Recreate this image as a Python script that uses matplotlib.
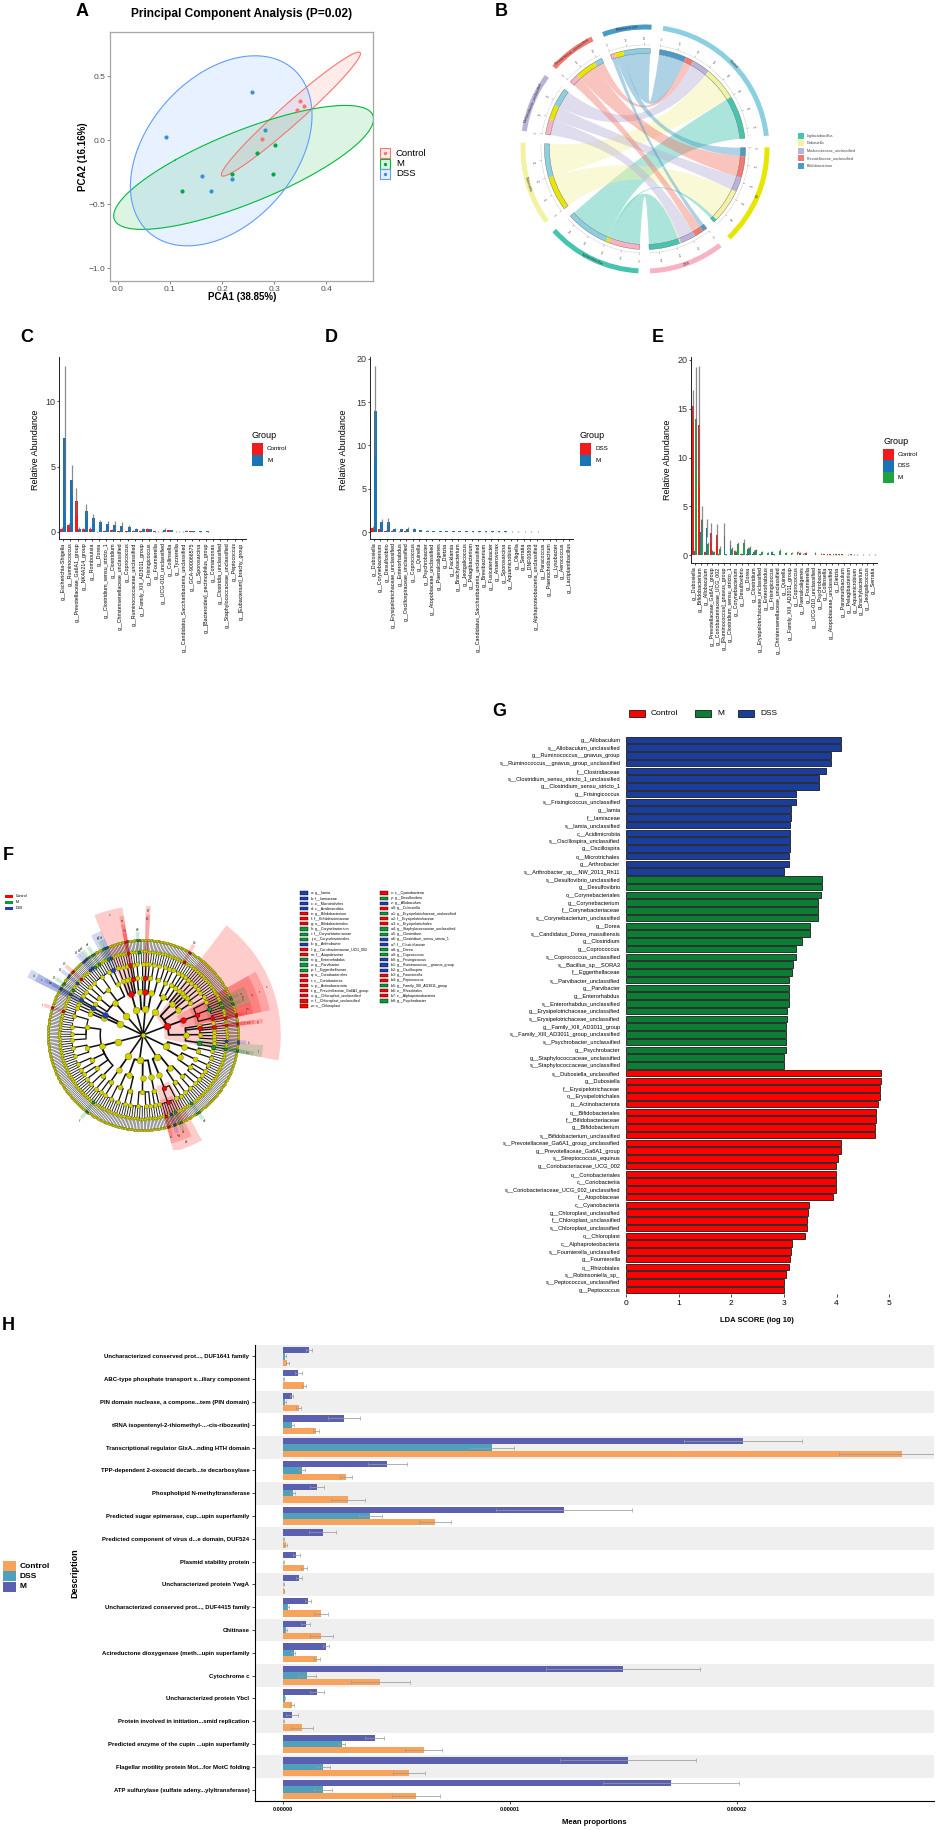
import numpy as np
import matplotlib
matplotlib.use("Agg")
import matplotlib.pyplot as plt
from matplotlib.patches import Rectangle, Wedge, PathPatch
from matplotlib.path import Path
from matplotlib.collections import LineCollection

plt.rcParams['font.family'] = ['Liberation Sans', 'DejaVu Sans']

# ======================= DATA =======================
# --- A: PCA ---
pca_groups = ['Control', 'M', 'DSS']
pca_line_colors = ['#F8766D', '#00BA38', '#619CFF']
pca_point_colors = ['#F8766D', '#00A844', '#3A8FDB']
pca_ctrl_x = [0.350, 0.358, 0.344, 0.277]
pca_ctrl_y = [0.307, 0.263, 0.237, 0.005]
pca_m_x = [0.302, 0.267, 0.219, 0.297, 0.122]
pca_m_y = [-0.037, -0.099, -0.266, -0.268, -0.396]
pca_dss_x = [0.257, 0.092, 0.282, 0.161, 0.220, 0.178]
pca_dss_y = [0.377, 0.023, 0.078, -0.279, -0.305, -0.396]
pca_xticks = [0.0, 0.1, 0.2, 0.3, 0.4]
pca_xticklabels = ['0.0', '0.1', '0.2', '0.3', '0.4']
pca_yticks = [-1.0, -0.5, 0.0, 0.5]
pca_yticklabels = ['\u22121.0', '\u22120.5', '0.0', '0.5']

# --- B: chord ---
chord_groups = ['Control', 'M', 'DSS']
chord_taxa = ['Ligilactobacillus', 'Dubosiella', 'Muribaculaceae_unclassified',
              'Prevotellaceae_unclassified', 'Bifidobacterium']
chord_control = [25.0, 19.5, 10.6, 4.6, 15.6]
chord_m = [2.0, 19.5, 8.5, 12.4, 5.0]
chord_dss = [18.0, 0.5, 9.0, 5.5, 2.6]
chord_group_colors = ['#8CCFE1', '#E6E600', '#F7B3C3']
chord_taxa_colors = ['#45C4AE', '#F2F2A2', '#B9B3D9', '#F27A70', '#4A9BC7']

# --- C ---
c_cats = ["g__Escherichia-Shigella", "g__Ruminococcus", "g__Prevotellaceae_Ga6A1_group",
          "g__NK4A214_group", "g__Romboutsia", "g__Dorea", "g__Clostridium_sensu_stricto_1",
          "g__Clostridium", "g__Christensenellaceae_unclassified", "g__Coprococcus",
          "g__Ruminococcaceae_unclassified", "g__Family_XIII_AD3011_group", "g__Frisingicoccus",
          "g__Fournierella", "g__UCG-010_unclassified", "g__Collinsella", "g__Tyzzerella",
          "g__Candidatus_Saccharibacteria_unclassified", "g__GCA-900066575", "g__Sporosarcina",
          "g__[Bacteroides]_pectinophilus_group", "g__Comamonas", "g__Clostridia_unclassified",
          "g__Staphylococcaceae_unclassified", "g__Peptococcus", "g__[Eubacterium]_brachy_group"]
c_ctrl = [0.25, 0.55, 2.35, 0.20, 0.25, 0.02, 0.10, 0.15, 0.05, 0.05, 0.08, 0.05, 0.25,
          0.05, 0.02, 0.12, 0.03, 0.02, 0.06, 0.02, 0.01, 0.02, 0.01, 0.01, 0.01, 0.01]
c_m = [7.2, 3.95, 0.25, 1.6, 1.05, 0.75, 0.62, 0.55, 0.42, 0.35, 0.25, 0.22, 0.20,
       0.03, 0.18, 0.12, 0.02, 0.08, 0.05, 0.05, 0.06, 0.02, 0.02, 0.02, 0.01, 0.01]
c_ctrl_err = [0.10, 0.15, 1.05, 0.10, 0.10, 0.02, 0.05, 0.05, 0.03, 0.03, 0.04, 0.03, 0.08,
              0.03, 0.02, 0.06, 0.02, 0.02, 0.03, 0.01, 0.01, 0.01, 0.01, 0.01, 0.01, 0.01]
c_m_err = [5.5, 1.15, 0.15, 0.55, 0.30, 0.20, 0.20, 0.30, 0.33, 0.15, 0.08, 0.08, 0.05,
           0.02, 0.12, 0.05, 0.02, 0.04, 0.03, 0.02, 0.03, 0.01, 0.01, 0.01, 0.01, 0.01]

# --- D ---
d_cats = ["g__Dubosiella", "g__Corynebacterium", "g__Desulfovibrio",
          "g__Erysipelotrichaceae_unclassified", "g__Enterorhabdus",
          "g__Oscillospiraceae_unclassified", "g__Coprococcus", "g__Quinella", "g__Psychrobacter",
          "g__Atopobiaceae_unclassified", "g__Paenalcaligenes", "g__Dietzia", "g__Facklamia",
          "g__Brachybacterium", "g__Jeotgalicoccus", "g__Pelagibacterium",
          "g__Candidatus_Saccharibacteria_unclassified", "g__Brevibacterium",
          "g__Fusicatenibacter", "g__Anaerovorax", "g__Sporosarcina", "g__Aquamicrobium",
          "g__Oligella", "g__Serratia", "g__DNF00809", "g__Alphaproteobacteria_unclassified",
          "g__Paracoccus", "g__Paenochrobactrum", "g__Lysobacter", "g__Aerococcus",
          "g__Lactiplantibacillus"]
d_dss = [0.5, 0.3, 0.15, 0.15, 0.05, 0.10, 0.03, 0.02, 0.02, 0.03, 0.02, 0.02, 0.02, 0.02,
         0.01, 0.01, 0.02, 0.01, 0.01, 0.01, 0.01, 0.01, 0.01, 0.01, 0.01, 0.01, 0.01, 0.01,
         0.01, 0.01, 0.01]
d_m = [14.0, 1.2, 1.2, 0.32, 0.30, 0.38, 0.30, 0.20, 0.15, 0.12, 0.12, 0.10, 0.10, 0.10,
       0.10, 0.09, 0.08, 0.08, 0.08, 0.07, 0.07, 0.06, 0.06, 0.05, 0.05, 0.05, 0.04, 0.04,
       0.04, 0.03, 0.03]
d_dss_err = [0.20, 0.10, 0.05, 0.05, 0.02, 0.04, 0.02, 0.01, 0.01, 0.01, 0.01, 0.01, 0.01,
             0.01, 0.01, 0.01, 0.01, 0.01, 0.01, 0.01, 0.01, 0.01, 0.01, 0.01, 0.01, 0.01,
             0.01, 0.01, 0.01, 0.01, 0.01]
d_m_err = [5.2, 0.30, 0.45, 0.10, 0.08, 0.15, 0.12, 0.05, 0.05, 0.04, 0.04, 0.03, 0.03, 0.03,
           0.03, 0.03, 0.03, 0.02, 0.02, 0.02, 0.02, 0.02, 0.02, 0.02, 0.02, 0.02, 0.01, 0.01,
           0.01, 0.01, 0.01]

# --- E ---
e_cats = ["g__Dubosiella", "g__Bifidobacterium", "g__Allobaculum",
          "g__Prevotellaceae_Ga6A1_group", "g__Coriobacteriaceae_UCG_002",
          "g__[Ruminococcus]_gnavus_group", "g__Clostridium_sensu_stricto_1",
          "g__Corynebacterium", "g__Desulfovibrio", "g__Dorea", "g__Clostridium",
          "g__Erysipelotrichaceae_unclassified", "g__Enterorhabdus", "g__Frisingicoccus",
          "g__Christensenellaceae_unclassified", "g__Quinella", "g__Family_XIII_AD3011_group",
          "g__Coprococcus", "g__Paenalcaligenes", "g__Fournierella", "g__UCG-010_unclassified",
          "g__Psychrobacter", "g__Collinsella", "g__Atopobiaceae_unclassified", "g__Dietzia",
          "g__Paramuribaculum", "g__Pelagibacterium", "g__Aquamicrobium", "g__Brachybacterium",
          "g__Jeotgalicoccus", "g__Serratia"]
e_ctrl = [15.3, 13.3, 0.30, 2.30, 2.10, 0.05, 0.05, 0.40, 0.15, 0.10, 0.15, 0.05, 0.05, 0.05,
          0.05, 0.02, 0.05, 0.05, 0.20, 0.25, 0.02, 0.02, 0.12, 0.10, 0.10, 0.08, 0.06, 0.06,
          0.05, 0.04, 0.04]
e_dss = [0.40, 2.40, 2.80, 0.40, 0.10, 2.00, 1.00, 0.30, 0.10, 0.60, 0.35, 0.10, 0.05, 0.30,
         0.05, 0.02, 0.05, 0.02, 0.05, 0.03, 0.02, 0.02, 0.03, 0.02, 0.02, 0.05, 0.02, 0.02,
         0.02, 0.02, 0.02]
e_m = [14.0, 3.60, 1.10, 0.30, 0.60, 0.10, 0.60, 1.10, 1.20, 0.70, 0.50, 0.30, 0.25, 0.10,
       0.40, 0.20, 0.20, 0.35, 0.15, 0.05, 0.20, 0.15, 0.10, 0.10, 0.08, 0.05, 0.08, 0.07,
       0.07, 0.07, 0.06]
e_ctrl_err = [1.6, 6.1, 0.10, 1.00, 1.10, 0.02, 0.02, 0.15, 0.05, 0.05, 0.05, 0.02, 0.02, 0.02,
              0.02, 0.01, 0.02, 0.02, 0.08, 0.08, 0.01, 0.01, 0.04, 0.04, 0.03, 0.03, 0.02,
              0.02, 0.02, 0.02, 0.02]
e_dss_err = [0.15, 1.30, 0.90, 0.15, 0.05, 1.30, 0.60, 0.10, 0.05, 0.20, 0.15, 0.05, 0.02,
             0.10, 0.02, 0.01, 0.02, 0.01, 0.02, 0.01, 0.01, 0.01, 0.01, 0.01, 0.01, 0.02,
             0.01, 0.01, 0.01, 0.01, 0.01]
e_m_err = [5.3, 1.40, 0.30, 0.10, 0.30, 0.05, 0.25, 0.30, 0.50, 0.20, 0.15, 0.10, 0.08, 0.05,
           0.20, 0.08, 0.08, 0.12, 0.06, 0.02, 0.10, 0.06, 0.04, 0.04, 0.03, 0.02, 0.03, 0.03,
           0.03, 0.03, 0.02]

# --- F: cladogram (phylum > class > order > family[genus count]) ---
clado_tree = [
    [[[1, 2], [2, 1, 2, 1], [1], [2]], [[3, 5, 2]], [[3, 2], [2]], [[2], [2], [2]]],
    [[[2, 1], [3], [2, 2]]],
    [[[2, 3], [2, 2]], [[1]], [[2], [3, 1]]],
    [[[1], [2], [2], [2]]],
    [[[3, 1], [7, 2], [3, 2], [3]]],
    [[[1, 1]], [[2], [1]]],
    [[[6, 4, 3, 2], [5, 3], [4, 2], [3, 2], [4, 2]]],
    [[[3, 2]]],
    [[[4, 3], [3, 2]], [[5, 2, 2]], [[2, 2]]],
    [[[6, 2]], [[3, 2], [4, 2]]],
    [[[3, 2, 2], [4]], [[3, 3]]],
]
species_per_genus = 2
clado_marks = {
    (0,): (0, 's'), (0, 1): (0, 'r'), (0, 1, 0): (0, 'q'), (0, 1, 0, 0): (0, 'm'),
    (0, 1, 0, 0, 0): (0, 'l'), (0, 1, 0, 1): (1, 'p'), (0, 1, 0, 1, 1): (1, 'n'),
    (0, 1, 0, 1, 3): (1, 'o'), (0, 0, 0): (1, 'j'), (0, 0, 0, 0): (1, 'i'),
    (0, 0, 0, 0, 0): (1, 'h'), (0, 0, 1, 0, 0): (2, 'k'), (0, 0, 2): (0, 'g'),
    (0, 0, 2, 0): (0, 'f'), (0, 0, 2, 0, 0): (0, 'e'), (1, 0, 1, 0, 1): (0, 'b4'),
    (2, 1): (0, 'b7'), (2, 1, 0): (0, 'b6'), (2, 2, 1, 0, 0): (1, 'b8'),
    (3, 0): (0, 'x'), (3, 0, 0): (0, 'w'), (3, 0, 0, 0): (0, 'v'), (3, 0, 0, 0, 0): (0, 'u'),
    (4, 0, 0, 0): (2, 'a7'), (4, 0, 0, 0, 0): (2, 'a6'), (4, 0, 0, 0, 1): (1, 'a5'),
    (4, 0, 1, 0, 1): (1, 'a8'), (4, 0, 1, 0, 3): (1, 'a9'), (4, 0, 1, 0, 4): (2, 'b0'),
    (4, 0, 1, 0, 5): (2, 'b1'), (4, 0, 2, 0, 1): (0, 'b3'), (4, 0, 2, 1, 0): (2, 'b2'),
    (4, 0, 3, 0, 1): (1, 'b5'), (5, 0): (2, 'd'), (5, 0, 0): (2, 'c'), (5, 0, 0, 0): (2, 'b'),
    (5, 0, 0, 0, 0): (2, 'a'), (6, 0, 0, 0, 2): (0, 't'), (7, 0, 0, 0, 1): (1, 'y'),
    (9, 0, 0): (0, 'a3'), (9, 0, 0, 0): (0, 'a2'), (9, 0, 0, 0, 0): (0, 'a0'),
    (9, 0, 0, 0, 2): (2, 'z'), (9, 0, 0, 0, 4): (1, 'a1'), (9, 1, 0, 1, 0): (1, 'a4'),
}
clado_names = {
    'a': 'g__Iamia', 'b': 'f__Iamiaceae', 'c': 'o__Microtrichales', 'd': 'c__Acidimicrobiia',
    'e': 'g__Bifidobacterium', 'f': 'f__Bifidobacteriaceae', 'g': 'o__Bifidobacteriales',
    'h': 'g__Corynebacterium', 'i': 'f__Corynebacteriaceae', 'j': 'o__Corynebacteriales',
    'k': 'g__Arthrobacter', 'l': 'g__Coriobacteriaceae_UCG_002', 'm': 'f__Atopobiaceae',
    'n': 'g__Enterorhabdus', 'o': 'g__Parvibacter', 'p': 'f__Eggerthellaceae',
    'q': 'o__Coriobacteriales', 'r': 'c__Coriobacteriia', 's': 'p__Actinobacteriota',
    't': 'g__Prevotellaceae_Ga6A1_group', 'u': 'g__Chloroplast_unclassified',
    'v': 'f__Chloroplast_unclassified', 'w': 'o__Chloroplast', 'x': 'c__Cyanobacteria',
    'y': 'g__Desulfovibrio', 'z': 'g__Allobaculum', 'a0': 'g__Dubosiella',
    'a1': 'g__Erysipelotrichaceae_unclassified', 'a2': 'f__Erysipelotrichaceae',
    'a3': 'o__Erysipelotrichales', 'a4': 'g__Staphylococcaceae_unclassified',
    'a5': 'g__Clostridium', 'a6': 'g__Clostridium_sensu_stricto_1', 'a7': 'f__Clostridiaceae',
    'a8': 'g__Dorea', 'a9': 'g__Coprococcus', 'b0': 'g__Frisingicoccus',
    'b1': 'g__Ruminococcus__gnavus_group', 'b2': 'g__Oscillospira', 'b3': 'g__Fournierella',
    'b4': 'g__Peptococcus', 'b5': 'g__Family_XIII_AD3011_group', 'b6': 'o__Rhizobiales',
    'b7': 'c__Alphaproteobacteria', 'b8': 'g__Psychrobacter',
}
clado_groups = ['Control', 'M', 'DSS']
clado_colors = ['#FF0000', '#0A9A3A', '#1E40B8']

# --- G: LDA ---
lda_groups = ['Control', 'M', 'DSS']
lda_colors = ['#FF0000', '#0B7D35', '#1A3E9E']
lda_dss_names = ["g__Allobaculum", "s__Allobaculum_unclassified", "g__Ruminococcus__gnavus_group",
                 "s__Ruminococcus__gnavus_group_unclassified", "f__Clostridiaceae",
                 "s__Clostridium_sensu_stricto_1_unclassified", "g__Clostridium_sensu_stricto_1",
                 "g__Frisingicoccus", "s__Frisingicoccus_unclassified", "g__Iamia", "f__Iamiaceae",
                 "s__Iamia_unclassified", "c__Acidimicrobiia", "s__Oscillospira_unclassified",
                 "g__Oscillospira", "o__Microtrichales", "g__Arthrobacter",
                 "s__Arthrobacter_sp__NW_2013_Rh11"]
lda_dss_scores = [4.08, 4.08, 3.89, 3.89, 3.79, 3.67, 3.67, 3.22, 3.22, 3.13, 3.13, 3.12, 3.11,
                  3.11, 3.11, 3.10, 3.09, 3.01]
lda_m_names = ["s__Desulfovibrio_unclassified", "g__Desulfovibrio", "o__Corynebacteriales",
               "g__Corynebacterium", "f__Corynebacteriaceae", "s__Corynebacterium_unclassified",
               "g__Dorea", "s__Candidatus_Dorea_massiliensis", "g__Clostridium", "g__Coprococcus",
               "s__Coprococcus_unclassified", "s__Bacillus_sp__SORA3", "f__Eggerthellaceae",
               "s__Parvibacter_unclassified", "g__Parvibacter", "g__Enterorhabdus",
               "s__Enterorhabdus_unclassified", "g__Erysipelotrichaceae_unclassified",
               "s__Erysipelotrichaceae_unclassified", "g__Family_XIII_AD3011_group",
               "s__Family_XIII_AD3011_group_unclassified", "s__Psychrobacter_unclassified",
               "g__Psychrobacter", "g__Staphylococcaceae_unclassified",
               "s__Staphylococcaceae_unclassified"]
lda_m_scores = [3.72, 3.72, 3.70, 3.65, 3.65, 3.65, 3.49, 3.49, 3.34, 3.22, 3.22, 3.18, 3.15,
                3.10, 3.10, 3.09, 3.09, 3.06, 3.06, 3.04, 3.04, 3.03, 3.03, 3.01, 3.01]
lda_ctrl_names = ["s__Dubosiella_unclassified", "g__Dubosiella", "f__Erysipelotrichaceae",
                  "o__Erysipelotrichales", "p__Actinobacteriota", "o__Bifidobacteriales",
                  "f__Bifidobacteriaceae", "g__Bifidobacterium", "s__Bifidobacterium_unclassified",
                  "s__Prevotellaceae_Ga6A1_group_unclassified", "g__Prevotellaceae_Ga6A1_group",
                  "s__Streptococcus_equinus", "g__Coriobacteriaceae_UCG_002",
                  "o__Coriobacteriales", "c__Coriobacteriia",
                  "s__Coriobacteriaceae_UCG_002_unclassified", "f__Atopobiaceae",
                  "c__Cyanobacteria", "g__Chloroplast_unclassified", "f__Chloroplast_unclassified",
                  "s__Chloroplast_unclassified", "o__Chloroplast", "c__Alphaproteobacteria",
                  "s__Fournierella_unclassified", "g__Fournierella", "o__Rhizobiales",
                  "s__Robinsoniella_sp_", "s__Peptococcus_unclassified", "g__Peptococcus"]
lda_ctrl_scores = [4.85, 4.85, 4.82, 4.82, 4.79, 4.75, 4.74, 4.73, 4.73, 4.09, 4.08, 4.02, 3.99,
                   3.99, 3.98, 3.98, 3.94, 3.48, 3.46, 3.44, 3.44, 3.40, 3.16, 3.14, 3.12, 3.10,
                   3.04, 3.01, 3.00]
lda_xticks = [0, 1, 2, 3, 4, 5]

# --- H: functional mean proportions (x 1e-6) ---
h_desc = ["Uncharacterized conserved prot..., DUF1641 family",
          "ABC-type phosphate transport s...iliary component",
          "PIN domain nuclease, a compone...tem (PIN domain)",
          "tRNA isopentenyl-2-thiomethyl-...-cis-ribozeatin)",
          "Transcriptional regulator GlxA...nding HTH domain",
          "TPP-dependent 2-oxoacid decarb...te decarboxylase",
          "Phospholipid N-methyltransferase",
          "Predicted sugar epimerase, cup...upin superfamily",
          "Predicted component of virus d...e domain, DUF524",
          "Plasmid stability protein",
          "Uncharacterized protein YwgA",
          "Uncharacterized conserved prot..., DUF4415 family",
          "Chitinase",
          "Acireductone dioxygenase (meth...upin superfamily",
          "Cytochrome c",
          "Uncharacterized protein YbcI",
          "Protein involved in initiation...smid replication",
          "Predicted enzyme of the cupin ...upin superfamily",
          "Flagellar motility protein Mot...for MotC folding",
          "ATP sulfurylase (sulfate adeny...ylyltransferase)"]
h_groups = ['Control', 'DSS', 'M']
h_colors = ['#F7A35C', '#4FA0BA', '#5B5FAF']
h_m = [1.16, 0.68, 0.38, 2.68, 20.3, 4.6, 1.5, 12.4, 1.76, 0.59, 0.71, 1.11, 1.0, 1.9, 15.0,
       1.5, 0.4, 4.04, 15.2, 17.1]
h_dss = [0.09, 0.02, 0.10, 0.40, 9.2, 0.84, 0.43, 3.85, 0.02, 0.02, 0.02, 0.21, 0.12, 0.47,
         1.06, 0.08, 0.02, 2.6, 1.77, 1.75]
h_ctrl = [0.20, 0.94, 0.69, 1.46, 27.3, 2.78, 2.85, 6.72, 0.13, 0.93, 0.05, 1.69, 1.69, 1.5,
          4.3, 0.4, 0.84, 6.2, 5.57, 5.86]
h_m_err = [0.12, 0.15, 0.06, 0.70, 2.6, 0.85, 0.30, 3.0, 0.60, 0.15, 0.15, 0.12, 0.20, 0.15,
           3.4, 0.30, 0.25, 0.40, 3.0, 3.0]
h_dss_err = [0.03, 0.01, 0.04, 0.08, 1.0, 0.15, 0.10, 0.50, 0.01, 0.01, 0.01, 0.05, 0.04, 0.05,
             0.40, 0.03, 0.01, 0.15, 0.30, 0.40]
h_ctrl_err = [0.06, 0.10, 0.10, 0.15, 2.8, 0.25, 0.75, 0.70, 0.06, 0.12, 0.02, 0.30, 0.50,
              0.15, 1.3, 0.10, 0.50, 0.80, 0.70, 1.05]
h_xticks = [0, 10, 20]
h_xticklabels = ['0.00000', '0.00001', '0.00002']

# ======================= FIGURE =======================
W, H = 939, 1830
fig = plt.figure(figsize=(W / 100, H / 100), dpi=100)


def add_ax(x0, y0, x1, y1):
    return fig.add_axes([x0 / W, 1 - y1 / H, (x1 - x0) / W, (y1 - y0) / H])


def arc_xy(r, a0, a1, n=40):
    th = np.radians(np.linspace(a0, a1, n))
    return np.column_stack([r * np.cos(th), r * np.sin(th)])


# ---------- Panel A ----------
axA = add_ax(110, 32, 373, 281)
pca_sets = [(pca_ctrl_x, pca_ctrl_y), (pca_m_x, pca_m_y), (pca_dss_x, pca_dss_y)]
F95 = {3: 9.552, 4: 6.944, 5: 5.786}
pca_scale = [0.82, 0.9, 0.74]
tt = np.linspace(0, 2 * np.pi, 240)
for (xs, ys), lc, sc in zip(pca_sets, pca_line_colors, pca_scale):
    xs = np.asarray(xs); ys = np.asarray(ys)
    vals, vecs = np.linalg.eigh(np.cov(xs, ys))
    rad = np.sqrt(2 * F95[len(xs) - 1]) * sc
    ell = vecs @ (np.sqrt(vals)[:, None] * np.vstack([np.cos(tt), np.sin(tt)])) * rad
    axA.fill(xs.mean() + ell[0], ys.mean() + ell[1], color=lc, alpha=0.14, lw=0, zorder=1)
    axA.plot(xs.mean() + ell[0], ys.mean() + ell[1], color=lc, lw=0.8, zorder=2)
for (xs, ys), pc in zip(pca_sets, pca_point_colors):
    axA.scatter(xs, ys, s=9, color=pc, lw=0, zorder=3)
axA.set_xlim(-0.0154, 0.49)
axA.set_ylim(-1.10, 0.844)
axA.set_xticks(pca_xticks); axA.set_xticklabels(pca_xticklabels)
axA.set_yticks(pca_yticks); axA.set_yticklabels(pca_yticklabels)
axA.tick_params(labelsize=6, labelcolor='#4D4D4D', color='#4D4D4D', length=2, width=0.5, pad=1.5)
for sp in axA.spines.values():
    sp.set_color('#A6A6A6'); sp.set_linewidth(0.9)

# ---------- Panel B ----------
axB = add_ax(470, 0, 939, 290)
bcx, bcy = 645, 149
axB.set_xlim(470 - bcx, 939 - bcx)
axB.set_ylim(bcy - 290, bcy)
axB.axis('off')
chord_mat = np.array([chord_control, chord_m, chord_dss], dtype=float)
sizes = list(chord_mat.sum(axis=1)) + list(chord_mat.sum(axis=0))
n_sec = len(sizes)
gap = (360.0 - sum(sizes)) / n_sec
sec_start = []
acur = 81.5
for s in sizes:
    sec_start.append(acur)
    acur -= s + gap
sec_names = chord_groups + chord_taxa
sec_colors = chord_group_colors + chord_taxa_colors
g_seg, t_seg = {}, {}
for gi in range(3):
    acur = sec_start[gi]
    for ti in reversed(range(5)):
        w = chord_mat[gi, ti]; g_seg[(gi, ti)] = (acur, acur - w); acur -= w
for ti in range(5):
    acur = sec_start[3 + ti]
    for gi in reversed(range(3)):
        w = chord_mat[gi, ti]; t_seg[(gi, ti)] = (acur, acur - w); acur -= w
R_link = 95.5
for gi in range(3):
    for ti in range(5):
        s0, s1 = g_seg[(gi, ti)]; t0, t1 = t_seg[(gi, ti)]
        p1 = arc_xy(R_link, s0, s1); p2 = arc_xy(R_link, t0, t1)
        verts = np.vstack([p1, [[0, 0]], p2, [[0, 0]], p1[:1], [[0, 0]]])
        codes = ([Path.MOVETO] + [Path.LINETO] * (len(p1) - 1) + [Path.CURVE3, Path.CURVE3]
                 + [Path.LINETO] * (len(p2) - 1) + [Path.CURVE3, Path.CURVE3, Path.CLOSEPOLY])
        axB.add_patch(PathPatch(Path(verts, codes), facecolor=chord_taxa_colors[ti],
                                alpha=0.45, edgecolor='none', zorder=1))
for (gi, ti), (a0, a1) in g_seg.items():
    axB.add_patch(Wedge((0, 0), 100.5, a1, a0, width=5, facecolor=chord_taxa_colors[ti],
                        edgecolor='none', zorder=2))
for (gi, ti), (a0, a1) in t_seg.items():
    axB.add_patch(Wedge((0, 0), 100.5, a1, a0, width=5, facecolor=chord_group_colors[gi],
                        edgecolor='none', zorder=2))
for k in range(n_sec):
    a0 = sec_start[k]; a1 = a0 - sizes[k]
    axB.add_patch(Wedge((0, 0), 100.5, a1, a0, width=5, fill=False, edgecolor='#6E6E6E',
                        lw=0.3, zorder=3))
    axB.add_patch(Wedge((0, 0), 124.5, a1, a0, width=5, facecolor=sec_colors[k],
                        edgecolor='none', zorder=2))
    pts = arc_xy(104, a0, a1)
    axB.plot(pts[:, 0], pts[:, 1], color='#A0A0A0', lw=0.3, ls=(0, (2, 1.5)), zorder=2)
    for v in np.arange(0, sizes[k] + 1e-9, 10):
        ang = np.radians(a0 - v)
        axB.plot([104 * np.cos(ang), 106 * np.cos(ang)], [104 * np.sin(ang), 106 * np.sin(ang)],
                 color='#8A8A8A', lw=0.3, zorder=2)
        axB.text(110 * np.cos(ang), 110 * np.sin(ang), '%d' % v, fontsize=1.8, color='#555555',
                 ha='center', va='center', rotation=np.degrees(ang) - 90, zorder=3)
    mid = a0 - sizes[k] / 2
    rot = mid - 90 if 0 <= (mid % 360) <= 180 else mid + 90
    axB.text(122 * np.cos(np.radians(mid)), 122 * np.sin(np.radians(mid)), sec_names[k],
             fontsize=2.4, color='#333333', ha='center', va='center', rotation=rot, zorder=4)
for k, (nm, col) in enumerate(zip(chord_taxa, chord_taxa_colors)):
    yc = 136 + 7.4 * k
    axB.add_patch(Rectangle((798 - bcx, bcy - yc - 3), 6, 6, facecolor=col, edgecolor='none'))
    axB.text(807 - bcx, bcy - yc, nm, fontsize=2.7, color='#444444', va='center', ha='left')


# ---------- Panels C, D, E ----------
def abundance_panel(box, cats, series, errs, colors, ylim, yticks):
    ax = add_ax(*box)
    n = len(cats); k = len(series)
    x = np.arange(n)
    bw = 0.84 / k
    for j in range(k):
        off = (j - (k - 1) / 2) * bw
        ax.bar(x + off, series[j], bw, color=colors[j], lw=0, zorder=2)
        ax.errorbar(x + off, series[j], yerr=errs[j], fmt='none', ecolor='#6E6E6E',
                    elinewidth=0.9, alpha=0.8, capsize=0, zorder=3)
    ax.set_xlim(-0.6, n - 0.4)
    ax.set_ylim(*ylim)
    ax.set_xticks(x)
    ax.set_xticklabels(cats, rotation=90, fontsize=3.8)
    ax.set_yticks(yticks)
    ax.set_yticklabels([str(v) for v in yticks], fontsize=6.5, color='#333333')
    for s in ['top', 'right']:
        ax.spines[s].set_visible(False)
    for s in ['left', 'bottom']:
        ax.spines[s].set_linewidth(0.7); ax.spines[s].set_color('#222222')
    ax.tick_params(length=1.5, width=0.5, pad=1)
    ax.set_facecolor('none')
    return ax


red_c, blue_c, green_c = '#F21B1B', '#1A73B5', '#1FA33E'
abundance_panel((59, 357, 246, 539), c_cats, [c_ctrl, c_m], [c_ctrl_err, c_m_err],
                [red_c, blue_c], (-0.54, 13.4), [0, 5, 10])
abundance_panel((370, 357, 573, 539), d_cats, [d_dss, d_m], [d_dss_err, d_m_err],
                [red_c, blue_c], (-0.8, 20.2), [0, 5, 10, 15, 20])
abundance_panel((691, 357, 877, 563), e_cats, [e_ctrl, e_dss, e_m],
                [e_ctrl_err, e_dss_err, e_m_err], [red_c, blue_c, green_c], (-0.8, 20.3),
                [0, 5, 10, 15, 20])

# ---------- Panel F: cladogram ----------
axF = add_ax(0, 850, 520, 1150)
fcx, fcy = 143, 1035
axF.set_xlim(-fcx, 520 - fcx)
axF.set_ylim(fcy - 1150, fcy - 850)
axF.axis('off')
Rc = 95.0
crad = np.array([0, 0.27, 0.45, 0.60, 0.75, 0.88, 1.0]) * Rc


def count_leaves(sub):
    return sub if isinstance(sub, int) else sum(count_leaves(c) for c in sub)


n_leaves = count_leaves(clado_tree) * species_per_genus
cstep = 360.0 / n_leaves
cstart = -10.0
c_nodes = {}
c_edges = []
counter = [0]


def build(sub, path, depth):
    if depth == 5:
        angs = []
        for sidx in range(species_per_genus):
            a = cstart + counter[0] * cstep
            counter[0] += 1
            c_nodes[path + ('sp', sidx)] = (6, a, a, a)
            angs.append(a)
        lo, hi = angs[0], angs[-1]
        ga = (lo + hi) / 2
        for a in angs:
            c_edges.append((5, ga, 6, a))
        c_nodes[path] = (5, ga, lo, hi)
        return lo, hi
    kids = [None] * sub if isinstance(sub, int) else sub
    info = []
    for k, child in enumerate(kids):
        lo, hi = build(child, path + (k,), depth + 1)
        info.append(((lo + hi) / 2, lo, hi))
    lo = info[0][1]; hi = info[-1][2]
    a = (lo + hi) / 2
    for ca, _, _ in info:
        c_edges.append((depth, a, depth + 1, ca))
    c_nodes[path] = (depth, a, lo, hi)
    return lo, hi


build(clado_tree, (), 0)

# highlight wedges
for path, (gi, letter) in clado_marks.items():
    d, a, lo, hi = c_nodes[path]
    r_out = Rc * (1 + 0.09 * (6 - d))
    r_in = crad[d] - 4
    axF.add_patch(Wedge((0, 0), r_out, lo - cstep * 0.7, hi + cstep * 0.7,
                        width=r_out - r_in, facecolor=clado_colors[gi], alpha=0.2,
                        edgecolor='none', zorder=0))
    rl = r_out - 5 if d < 5 else r_out + 2
    axF.text(rl * np.cos(np.radians(a)), rl * np.sin(np.radians(a)), letter, fontsize=2.2,
             ha='center', va='center', color='#333333', zorder=6)

lw_by_depth = {0: 1.2, 1: 1.3, 2: 1.1, 3: 0.9, 4: 0.6, 5: 0.3}
segs = {d: [] for d in lw_by_depth}
for dp, ap, dc, ac in c_edges:
    if dp == 0:
        pts = np.array([[0, 0], [crad[dc] * np.cos(np.radians(ac)), crad[dc] * np.sin(np.radians(ac))]])
    else:
        arc = arc_xy(crad[dp], ap, ac, n=max(2, int(abs(ac - ap) / 2) + 2))
        end = np.array([[crad[dc] * np.cos(np.radians(ac)), crad[dc] * np.sin(np.radians(ac))]])
        pts = np.vstack([arc, end])
    segs[dp].append(pts)
for d, lst in segs.items():
    axF.add_collection(LineCollection(lst, colors='#111111', linewidths=lw_by_depth[d], zorder=2))

node_size = {0: 10, 1: 24, 2: 17, 3: 12, 4: 9, 5: 5, 6: 2.5}
for path, (d, a, lo, hi) in c_nodes.items():
    key = path[:-2] if (len(path) > 1 and path[-2] == 'sp') else path
    if key in clado_marks:
        fc = clado_colors[clado_marks[key][0]]; ec = '#222222'; z = 4
    else:
        fc = '#D2D200'; ec = '#6B6B00'; z = 3
    r = crad[d]
    axF.scatter([r * np.cos(np.radians(a))], [r * np.sin(np.radians(a))], s=node_size[d],
                facecolor=fc, edgecolor=ec, linewidths=0.3, zorder=z)

# ---------- Panel G: LDA ----------
lda_names = lda_dss_names + lda_m_names + lda_ctrl_names
lda_scores = lda_dss_scores + lda_m_scores + lda_ctrl_scores
lda_bar_colors = ([lda_colors[2]] * len(lda_dss_names) + [lda_colors[1]] * len(lda_m_names)
                  + [lda_colors[0]] * len(lda_ctrl_names))
axG = add_ax(626, 736, 905, 1294)
yG = np.arange(len(lda_names))
axG.barh(yG, lda_scores, height=0.82, color=lda_bar_colors, edgecolor='#1A1A1A', lw=0.6)
axG.set_ylim(len(lda_names) - 0.5, -0.5)
axG.set_xlim(0, 5.3)
axG.set_yticks(yG)
axG.set_yticklabels(lda_names, fontsize=4.1)
axG.set_xticks(lda_xticks)
axG.set_xticklabels([str(v) for v in lda_xticks], fontsize=6)
axG.tick_params(axis='y', length=0, pad=4)
axG.tick_params(axis='x', length=2, width=0.5, pad=2)
for sp in axG.spines.values():
    sp.set_visible(False)

# ---------- Panel H ----------
axH = add_ax(255, 1345, 934, 1801)
nH = len(h_desc)
yH = np.arange(nH)
axH.set_xlim(-1.23, 28.7)
axH.set_ylim(nH - 0.5, -0.5)
for i in range(0, nH, 2):
    axH.axhspan(i - 0.5, i + 0.5, color='#EFEFEF', lw=0, zorder=0)
bh = 0.277
for vals, errs, col, off in [(h_m, h_m_err, h_colors[2], -bh), (h_dss, h_dss_err, h_colors[1], 0.0),
                             (h_ctrl, h_ctrl_err, h_colors[0], bh)]:
    axH.barh(yH + off, vals, height=bh, color=col, lw=0, zorder=2)
    axH.errorbar(vals, yH + off, xerr=errs, fmt='none', ecolor='#9A9A9A', elinewidth=0.6,
                 capsize=1.2, capthick=0.5, alpha=0.9, zorder=3)
axH.set_yticks(yH)
axH.set_yticklabels(h_desc, fontsize=4.3, fontweight='bold')
axH.set_xticks(h_xticks)
axH.set_xticklabels(h_xticklabels, fontsize=4, fontweight='bold')
axH.tick_params(length=2, width=0.5, pad=2)
for s in ['top', 'right']:
    axH.spines[s].set_visible(False)
for s in ['left', 'bottom']:
    axH.spines[s].set_linewidth(0.8)

# ---------- Overlay (text / legends) ----------
ov = fig.add_axes([0, 0, 1, 1])
ov.set_xlim(0, W); ov.set_ylim(H, 0); ov.axis('off')
for lab, x, y in [('A', 82, 11), ('B', 501, 11), ('C', 27, 337), ('D', 331, 337),
                  ('E', 658, 337), ('F', 8, 855), ('G', 499, 711), ('H', 8, 1326)]:
    ov.text(x, y, lab, fontsize=13, fontweight='bold', ha='center', va='center')

# A texts & legend
ov.text(242, 14, 'Principal Component Analysis (P=0.02)', fontsize=8.6, fontweight='bold',
        ha='center', va='center')
ov.text(242, 297, 'PCA1 (38.85%)', fontsize=7, fontweight='bold', ha='center', va='center')
ov.text(83, 157, 'PCA2 (16.16%)', fontsize=7, fontweight='bold', ha='center', va='center',
        rotation=90)
for k, (nm, lc, pc) in enumerate(zip(pca_groups, pca_line_colors, pca_point_colors)):
    yc = 153 + 10.5 * k
    ov.add_patch(Rectangle((380, yc - 5), 10, 10, facecolor=lc, alpha=0.15, edgecolor='none'))
    ov.add_patch(Rectangle((380, yc - 5), 10, 10, fill=False, edgecolor=lc, lw=0.8))
    ov.scatter([385], [yc], s=6, color=pc, lw=0)
    ov.text(396, yc, nm, fontsize=6.8, va='center', ha='left')


# C/D/E legends and y labels
def group_legend(x, y_title, names, colors, bh=11.5):
    ov.text(x, y_title, 'Group', fontsize=6.5, va='center', ha='left')
    for k, (nm, col) in enumerate(zip(names, colors)):
        yy = y_title + 7 + k * bh
        ov.add_patch(Rectangle((x, yy), 11, bh, facecolor=col, lw=0))
        ov.text(x + 15, yy + bh / 2, nm, fontsize=4.5, va='center', ha='left')


group_legend(252, 436, ['Control', 'M'], [red_c, blue_c])
group_legend(580, 436, ['DSS', 'M'], [red_c, blue_c])
group_legend(883, 442, ['Control', 'DSS', 'M'], [red_c, blue_c, green_c], bh=11.3)
for x, y in [(35, 450), (343, 450), (667, 460)]:
    ov.text(x, y, 'Relative Abundance', fontsize=6.5, rotation=90, ha='center', va='center')

# F legends
for k, (nm, col) in enumerate(zip(clado_groups, clado_colors)):
    yc = 896 + 6 * k
    ov.add_patch(Rectangle((5, yc - 1.5), 8, 3, facecolor=col, lw=0))
    ov.text(16, yc, nm, fontsize=2.6, va='center', ha='left')
letters = list(clado_names.keys())
letter_group = {v[1]: v[0] for v in clado_marks.values()}
for k, lt in enumerate(letters):
    col_i = 0 if k < 23 else 1
    row = k if k < 23 else k - 23
    x0 = 300 if col_i == 0 else 380
    yc = 893 + row * 5.14
    ov.add_patch(Rectangle((x0, yc - 1.6), 8, 3.2, facecolor=clado_colors[letter_group[lt]],
                           edgecolor='black', lw=0.3))
    ov.text(x0 + 11, yc, '%s: %s' % (lt, clado_names[lt]), fontsize=2.6, va='center', ha='left')

# G legend and label
for k, (nm, col, bx) in enumerate(zip(lda_groups, lda_colors, [629, 695, 738])):
    ov.add_patch(Rectangle((bx, 710), 16, 7, facecolor=col, edgecolor='#1A1A1A', lw=0.6))
    ov.text(bx + 22, 713.5, nm, fontsize=6, va='center', ha='left')
ov.text(757, 1321, 'LDA SCORE (log 10)', fontsize=5.5, fontweight='bold', ha='center',
        va='center')

# H legend and labels
for k, (nm, col) in enumerate(zip(h_groups, h_colors)):
    yy = 1561 + 10.3 * k
    ov.add_patch(Rectangle((3, yy), 13, 10, facecolor=col, lw=0))
    ov.text(20, yy + 5, nm, fontsize=6, fontweight='bold', va='center', ha='left')
ov.text(75, 1573, 'Description', fontsize=6.5, fontweight='bold', rotation=90, ha='center',
        va='center')
ov.text(594, 1822, 'Mean proportions', fontsize=5.5, fontweight='bold', ha='center',
        va='center')

fig.savefig('out.png', dpi=100)
